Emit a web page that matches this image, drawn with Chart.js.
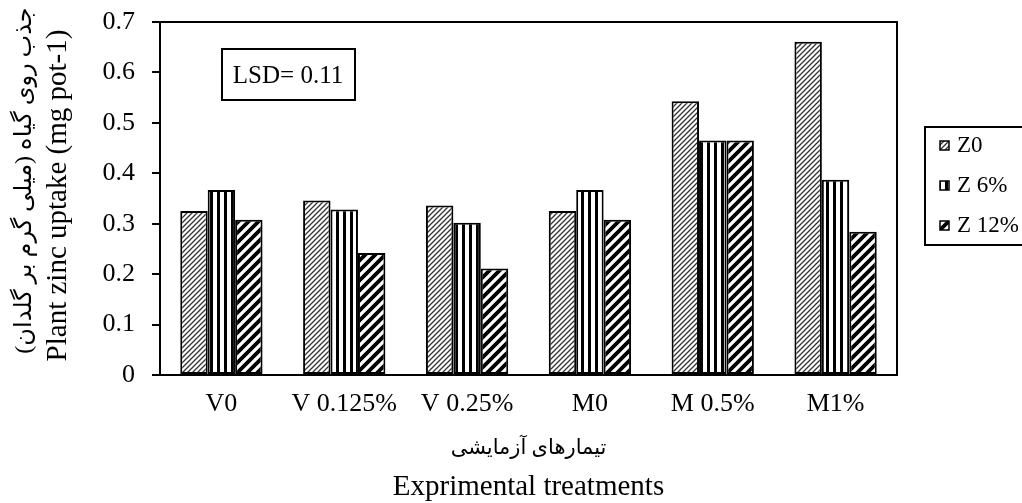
<!DOCTYPE html>
<html>
<head>
<meta charset="utf-8">
<script src="https://cdn.jsdelivr.net/npm/chart.js@4"></script>
<style>
  body { margin: 0; background: #fff; }
  #wrap { width: 1022px; height: 503px; }
</style>
</head>
<body>
<div id="wrap"><canvas id="chart"></canvas></div>
<script>
const categories = ['V0', 'V 0.125%', 'V 0.25%', 'M0', 'M 0.5%', 'M1%'];
const seriesNames = ['Z0', 'Z 6%', 'Z 12%'];
const z0 = [0.325, 0.346, 0.336, 0.325, 0.543, 0.661];
const z6 = [0.367, 0.328, 0.302, 0.367, 0.465, 0.387];
const z12 = [0.308, 0.242, 0.211, 0.308, 0.465, 0.284];
const yTicks = [0, 0.1, 0.2, 0.3, 0.4, 0.5, 0.6, 0.7];

const lsdText = 'LSD= 0.11';
const yTitleFa = 'جذب روی گیاه (میلی گرم بر گلدان)';
const yTitleEn = 'Plant zinc uptake (mg pot-1)';
const xTitleFa = 'تیمارهای آزمایشی';
const xTitleEn = 'Exprimental treatments';

const serif = '"Liberation Serif", "DejaVu Sans"';

// --- fill patterns ---
function makeTile(size, draw) {
  const c = document.createElement('canvas');
  c.width = size;
  c.height = size;
  const g = c.getContext('2d');
  g.fillStyle = '#fff';
  g.fillRect(0, 0, size, size);
  draw(g, size);
  return document.createElement('canvas').getContext('2d').createPattern(c, 'repeat');
}

function diagonal(g, s, w, color) {
  g.strokeStyle = color;
  g.lineWidth = w;
  g.beginPath();
  g.moveTo(-1, s + 1);
  g.lineTo(s + 1, -1);
  g.moveTo(-s / 2 - 1, s / 2 + 1);
  g.lineTo(s / 2 + 1, -s / 2 - 1);
  g.moveTo(s / 2 - 1, s * 1.5 + 1);
  g.lineTo(s * 1.5 + 1, s / 2 - 1);
  g.stroke();
}

const fineHatch = makeTile(5, (g, s) => diagonal(g, s, 1.3, '#333'));
const vStripes = makeTile(7, (g, s) => {
  g.fillStyle = '#000';
  g.fillRect(0, 0, 3, s);
});
const wideHatch = makeTile(10, (g, s) => diagonal(g, s, 3.8, '#000'));

const fills = [fineHatch, vStripes, wideHatch];
const values = [z0, z6, z12];

// no extra room for half tick labels, layout padding decides the frame
function noScalePadding(s) {
  s.paddingTop = 0;
  s.paddingBottom = 0;
  s.paddingLeft = 0;
  s.paddingRight = 0;
}

// box, LSD label, titles and legend
const decorations = {
  id: 'decorations',
  afterDraw(chart) {
    const { ctx, chartArea: a } = chart;
    ctx.save();

    // plot frame
    ctx.strokeStyle = '#000';
    ctx.lineWidth = 2;
    ctx.strokeRect(a.left, a.top, a.right - a.left, a.bottom - a.top);

    // LSD box
    ctx.strokeRect(a.left + 62, a.top + 27, 133, 51);
    ctx.fillStyle = '#000';
    ctx.font = '25px ' + serif;
    ctx.textAlign = 'center';
    ctx.textBaseline = 'middle';
    ctx.fillText(lsdText, a.left + 62 + 66, a.top + 27 + 27);

    // y titles
    const midY = (a.top + a.bottom) / 2;
    ctx.save();
    ctx.translate(25, midY - 18);
    ctx.rotate(-Math.PI / 2);
    ctx.direction = 'rtl';
    ctx.font = '24px ' + serif;
    ctx.fillText(yTitleFa, 0, 0);
    ctx.restore();

    ctx.save();
    ctx.translate(58, midY - 3);
    ctx.rotate(-Math.PI / 2);
    ctx.font = '29px ' + serif;
    ctx.fillText(yTitleEn, 0, 0);
    ctx.restore();

    // x titles
    const midX = (a.left + a.right) / 2;
    ctx.save();
    ctx.direction = 'rtl';
    ctx.font = '21px ' + serif;
    ctx.fillText(xTitleFa, midX, a.bottom + 73);
    ctx.restore();
    ctx.font = '29px ' + serif;
    ctx.fillText(xTitleEn, midX, a.bottom + 112);

    // legend
    const lx = a.right + 28;
    const ly = a.top + 105;
    ctx.lineWidth = 2;
    ctx.strokeRect(lx, ly, 120, 118);
    chart.data.datasets.forEach((ds, i) => {
      const y = ly + 19 + i * 40;
      ctx.fillStyle = ds.backgroundColor;
      ctx.fillRect(lx + 15, y - 5, 9, 9);
      ctx.lineWidth = 1.5;
      ctx.strokeRect(lx + 15, y - 5, 9, 9);
      ctx.fillStyle = '#000';
      ctx.font = '23px ' + serif;
      ctx.textAlign = 'left';
      ctx.fillText(ds.label, lx + 32, y);
    });

    ctx.restore();
  }
};

new Chart(document.getElementById('chart'), {
  type: 'bar',
  data: {
    labels: categories,
    datasets: seriesNames.map((name, i) => ({
      label: name,
      data: values[i],
      backgroundColor: fills[i],
      borderColor: '#000',
      borderWidth: 2,
      borderSkipped: false,
      categoryPercentage: 0.67,
      barPercentage: 1.0,
    })),
  },
  options: {
    responsive: true,
    maintainAspectRatio: false,
    animation: false,
    layout: { padding: { top: 22, right: 125, left: 0, bottom: 0 } },
    plugins: {
      legend: { display: false },
      tooltip: { enabled: false },
    },
    scales: {
      x: {
        grid: { drawOnChartArea: false, drawTicks: false },
        border: { color: '#000', width: 2 },
        ticks: {
          color: '#000',
          padding: 14,
          maxRotation: 0,
          font: { family: serif, size: 26 },
        },
        afterFit: (s) => { s.height = 128; noScalePadding(s); },
      },
      y: {
        min: 0,
        max: 0.7,
        afterBuildTicks: (s) => { s.ticks = yTicks.map((v) => ({ value: v })); },
        grid: { drawOnChartArea: false, color: '#000', tickLength: 8, lineWidth: 2 },
        border: { color: '#000', width: 2 },
        ticks: {
          color: '#000',
          padding: 17,
          font: { family: serif, size: 26 },
          callback: (v) => (v === 0 ? '0' : v.toFixed(1)),
        },
        afterFit: (s) => { s.width = 160; noScalePadding(s); },
      },
    },
  },
  plugins: [decorations],
});
</script>
</body>
</html>
